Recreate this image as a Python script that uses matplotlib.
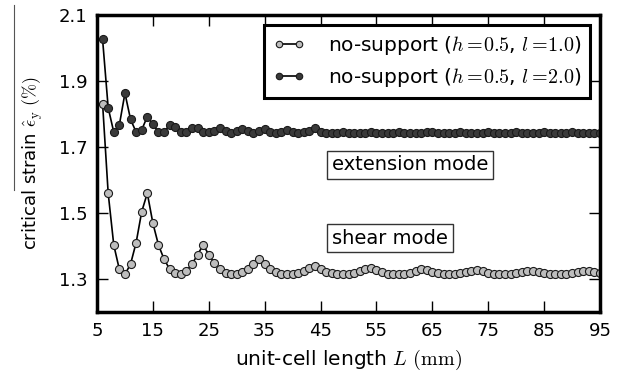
import numpy as np
import matplotlib
matplotlib.use('Agg')
import matplotlib.pyplot as plt
from matplotlib.lines import Line2D

plt.rcParams['mathtext.fontset'] = 'cm'
plt.rcParams['font.family'] = 'DejaVu Sans'

# unit-cell length L (mm)
cell_length = np.arange(6, 96)

# shear mode, l = 1.0
strain_l1 = [
    1.831, 1.560, 1.403, 1.329, 1.314, 1.345, 1.410, 1.504, 1.560, 1.469,
    1.403, 1.360, 1.330, 1.317, 1.314, 1.325, 1.345, 1.374, 1.403, 1.374,
    1.348, 1.330, 1.317, 1.314, 1.314, 1.320, 1.330, 1.345, 1.360, 1.345,
    1.330, 1.320, 1.314, 1.314, 1.316, 1.318, 1.324, 1.332, 1.338, 1.330,
    1.322, 1.317, 1.315, 1.314, 1.315, 1.318, 1.323, 1.330, 1.333, 1.327,
    1.320, 1.316, 1.314, 1.314, 1.316, 1.319, 1.324, 1.329, 1.328, 1.322,
    1.317, 1.315, 1.314, 1.315, 1.317, 1.320, 1.324, 1.327, 1.323, 1.318,
    1.315, 1.314, 1.314, 1.316, 1.318, 1.321, 1.324, 1.325, 1.321, 1.317,
    1.315, 1.314, 1.314, 1.316, 1.318, 1.321, 1.323, 1.324, 1.320, 1.317,
]

# extension mode, l = 2.0
strain_l2 = [
    2.026, 1.819, 1.745, 1.767, 1.863, 1.784, 1.745, 1.752, 1.792, 1.769,
    1.745, 1.745, 1.767, 1.762, 1.745, 1.745, 1.757, 1.759, 1.745, 1.745,
    1.750, 1.758, 1.748, 1.743, 1.748, 1.756, 1.747, 1.743, 1.748, 1.755,
    1.746, 1.743, 1.746, 1.752, 1.745, 1.743, 1.745, 1.750, 1.758, 1.745,
    1.743, 1.742, 1.743, 1.744, 1.743, 1.742, 1.742, 1.743, 1.744, 1.743,
    1.742, 1.742, 1.743, 1.744, 1.743, 1.742, 1.742, 1.743, 1.745, 1.744,
    1.743, 1.742, 1.742, 1.743, 1.744, 1.743, 1.742, 1.742, 1.743, 1.744,
    1.743, 1.742, 1.742, 1.743, 1.745, 1.743, 1.742, 1.742, 1.743, 1.744,
    1.743, 1.742, 1.742, 1.743, 1.744, 1.743, 1.742, 1.742, 1.742, 1.742,
]

labels = [r'no-support ($h=\!0.5$, $l=\!1.0$)',
          r'no-support ($h=\!0.5$, $l=\!2.0$)']
x_ticks = [5, 15, 25, 35, 45, 55, 65, 75, 85, 95]
y_ticks = [1.3, 1.5, 1.7, 1.9, 2.1]

fig = plt.figure(figsize=(6.28, 3.8), dpi=100)
ax = fig.add_axes([97 / 628, 1 - 312 / 380, 503 / 628, 297 / 380])

ax.plot(cell_length, strain_l1, '-o', color='black', lw=1.2,
        mfc='#bdbdbd', mec='#1a1a1a', mew=0.8, ms=5.8, label=labels[0])
ax.plot(cell_length, strain_l2, '-o', color='black', lw=1.2,
        mfc='#3a3a3a', mec='#1a1a1a', mew=0.8, ms=5.8, label=labels[1])

ax.set_xlim(5, 95)
ax.set_ylim(1.2, 2.1)
ax.set_xticks(x_ticks)
ax.set_yticks(y_ticks)
ax.tick_params(direction='in', length=8, width=1, top=True, right=True,
               labelsize=13, pad=7)
for sp in ax.spines.values():
    sp.set_linewidth(2.5)

ax.set_xlabel(r'unit-cell length $L$ $(\mathrm{mm})$', fontsize=14.5, labelpad=6)
ax.set_ylabel(r'critical strain $\hat{\epsilon}_\mathrm{y}$ $(\%)$', fontsize=13,
              labelpad=10)

box = dict(boxstyle='square,pad=0.25', fc='white', ec='#333333', lw=1)
ax.text(0.467, 0.495, 'extension mode', fontsize=14, transform=ax.transAxes,
        va='center', ha='left', bbox=box)
ax.text(0.467, 0.249, 'shear mode', fontsize=14, transform=ax.transAxes,
        va='center', ha='left', bbox=box)

leg = ax.legend(loc='upper right', fontsize=14.5, numpoints=2, handlelength=1.6,
                borderaxespad=0.5, fancybox=False, framealpha=1, markerscale=0.8,
                handletextpad=1.1, labelspacing=0.45, borderpad=0.45)
leg.get_frame().set_edgecolor('black')
leg.get_frame().set_linewidth(2.2)

# stray overline on the y label, as in the original
fig.add_artist(Line2D([14 / 628, 14 / 628], [1 - 5 / 380, 1 - 190 / 380],
                      color='#555555', lw=0.8))

fig.savefig('out.png', dpi=100)
